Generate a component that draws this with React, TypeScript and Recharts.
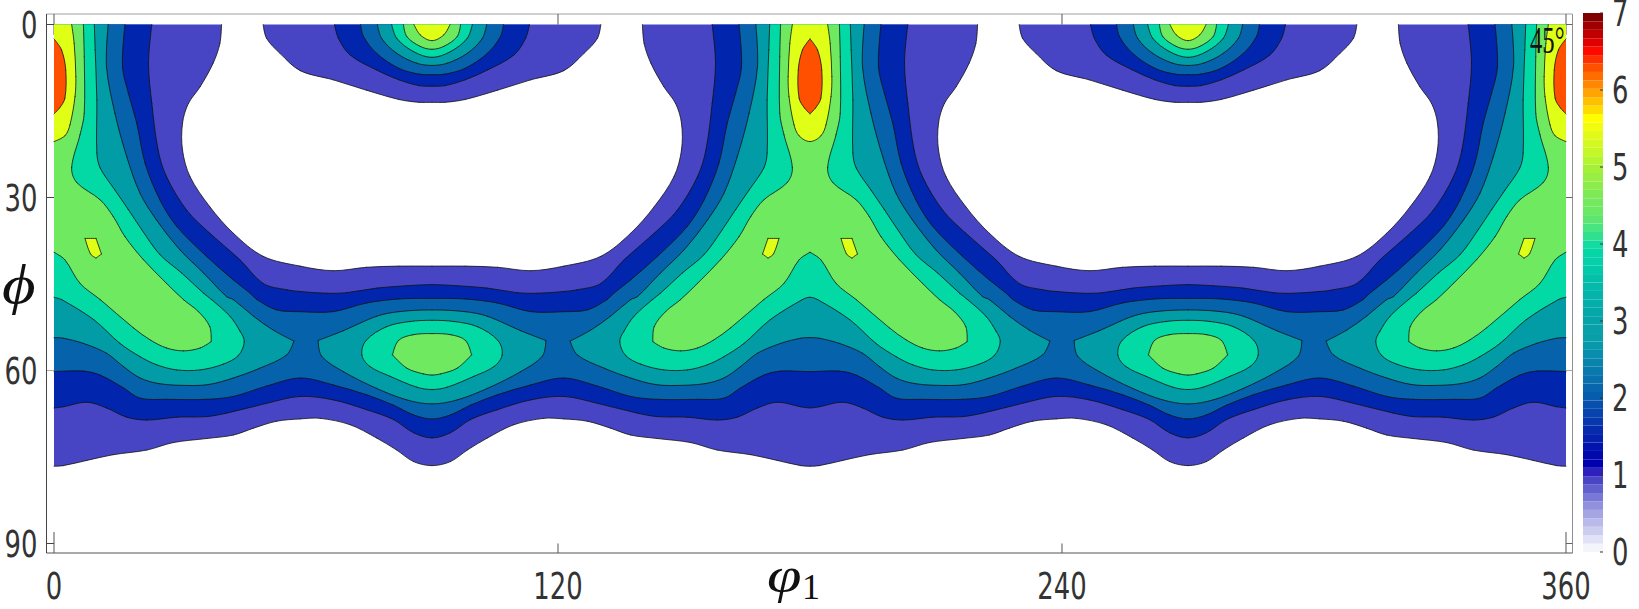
import React from 'react';
import {
  Bar,
  BarChart,
  ReferenceArea,
  ReferenceLine,
  Scatter,
  ScatterChart,
  XAxis,
  YAxis,
} from 'recharts';

type P = [number, number];

// phi1 / phi axes
const X_TICKS = [0, 120, 240, 360];
const Y_TICKS = [0, 30, 60, 90];
const BAR_TICKS = [0, 1, 2, 3, 4, 5, 6, 7];
const X_DOMAIN: P = [-1.786, 361.548];
const Y_DOMAIN: P = [-1.82, 91.65];

const LEVEL_COLORS = ['#4745c3', '#0225ae', '#0562ab', '#029ca6', '#02d9a5', '#6fe95f', '#e0ff16', '#ff5000'];

const BAR_COLORS = [
  '#f4f4fd', '#e2e2f7', '#cdcdf0', '#b9b9ea', '#a5a5e3', '#9090dd', '#7878d6', '#6060ce',
  '#4a44c6', '#2e20bc', '#0000b0', '#0008ae', '#0214ad', '#0420ad', '#062cad', '#0738ad',
  '#0844ad', '#0850ad', '#085cad', '#0866ad', '#0870ad', '#087aad', '#0884ac', '#088eac',
  '#0898ab', '#089eaa', '#08a0a9', '#06a4a8', '#04a8a8', '#04aeaa', '#04b4aa', '#04baaa',
  '#04c0aa', '#04c8aa', '#04d0a9', '#04d6a8', '#14dca0', '#2ee090', '#48e480', '#5ce670',
  '#6ce864', '#74e85e', '#80ea56', '#8cec4c', '#98ee42', '#a4f038', '#b4f430', '#c4f628',
  '#d4f820', '#e2fa18', '#f2fc0c', '#ffff00', '#ffdc00', '#ffc000', '#ffa400', '#ff8800',
  '#ff6c00', '#ff5000', '#ff3000', '#ff0800', '#e00000', '#c00000', '#a00000', '#800000',
];

// The figure repeats every 180 deg and mirrors about 90, so each contour is read
// once, for phi1 in 0..90, and laid out over the other quadrants below.

// band contours, upper and lower edge
const L1_TOP: P[] = [[39.9, 0], [39.5, 3.3], [37.9, 6.7], [34.8, 10.8], [32, 13.7], [30.6, 17.1], [30.6, 21.8], [32.4, 26.4], [37.1, 31.6], [42.7, 36.2], [49.8, 40.2], [58.6, 41.9], [66.5, 42.7], [74.4, 42.1], [82.1, 41.9], [90, 41.9]];
const L1_BOT: P[] = [[0, 76.6], [2.2, 76.5], [7.8, 75.6], [14.1, 74.6], [22.1, 73.8], [28.4, 72.5], [36.3, 71.8], [42.7, 71.2], [47.5, 70], [53, 68.8], [58.6, 68.4], [63.4, 68.3], [70.5, 69.4], [76.8, 71.7], [81.6, 73.8], [85.6, 75.8], [90, 76.5]];
const L2_TOP: P[] = [[23.3, 0], [22.5, 6.7], [23.3, 13.7], [24.8, 21.8], [26.8, 26.4], [31.6, 32.2], [37.1, 36.2], [44.3, 40.8], [49.8, 44.9], [55.4, 46], [58.6, 46.3], [64.9, 46.6], [69.7, 46.5], [76.9, 45.7], [84, 45.3], [90, 45.1]];
const L2_BOT: P[] = [[0, 66.5], [2.2, 66.3], [7.8, 65.5], [12.5, 66.5], [17.3, 68.1], [22.1, 68.6], [29.2, 68.1], [36.3, 68], [41.1, 67.4], [50.6, 65.7], [58.6, 64.5], [66.5, 65.1], [74.4, 66.8], [80.8, 68.5], [85.6, 70.8], [90, 71.7]];
const L3_TOP: P[] = [[16.9, 0], [16.3, 7.3], [17.7, 11.9], [19.7, 17.1], [21.7, 24.1], [25.2, 30.4], [29.2, 35], [36.3, 40.2], [42.7, 44.3], [46.7, 46.6], [48.3, 47.7], [53, 49.5], [58.6, 49.8], [66.5, 49.8], [74.4, 48.3], [82.1, 47.6], [90, 47.5]];
const L3_BOT: P[] = [[0, 60.2], [7, 60.1], [11, 60.8], [16.5, 63], [20.5, 64.8], [26.8, 65], [36.3, 65], [42.7, 64.5], [50.6, 62.7], [58.6, 61.3], [66.5, 62.5], [74.4, 64.2], [80.8, 66], [85.6, 67.7], [90, 68.4]];

// contours around the peaks at 0, 180, 360, from the top edge round to phi1 = 0
const PEAK_4: P[] = [[0, 0], [12.9, 0], [12.5, 7.3], [14.5, 15.4], [17.3, 22.9], [20.5, 29.3], [24.4, 33.9], [30, 39.1], [35.6, 43.1], [41.1, 47.2], [42.7, 47.7], [47.5, 50.6], [52.2, 53], [57.1, 54.9], [55.4, 57.3], [49, 59.6], [42.7, 61.3], [37.1, 62.4], [32.4, 62.6], [25.2, 62.3], [20.5, 61.3], [16.5, 59.3], [12.5, 57], [7, 55.3], [2.2, 54.4], [0, 54.3]];
const PEAK_5: P[] = [[0, 0], [9.6, 0], [9.8, 4.4], [10.2, 13.1], [10.2, 22.3], [11, 24.9], [14.5, 28.7], [17.7, 32.1], [20.9, 35.6], [25.2, 39.9], [30.4, 43.1], [35.6, 46.6], [37.5, 47.7], [41.9, 50.6], [44.3, 53.2], [45.3, 55], [43.9, 57.4], [40.3, 58.9], [34.8, 59.9], [29.2, 59.9], [24.4, 59], [20.5, 57.6], [15.7, 55.3], [9.5, 51.2], [1.8, 47.7], [0, 47.3]];
const PEAK_6: P[] = [[0, 0], [7, 0], [7.2, 5.6], [7.2, 15.4], [6.2, 19.1], [4.2, 24.8], [5.4, 27.4], [11, 30.4], [14.1, 33.3], [16.9, 36.8], [21.3, 40.8], [26.8, 44.9], [30.8, 47.7], [34.4, 49.8], [37.1, 52.4], [37.4, 55], [34.8, 56.1], [30.8, 56.6], [26.8, 56.1], [22.9, 54.7], [18.9, 52.6], [11, 47.7], [6.2, 44.9], [2.6, 40.8], [0, 39.5]];
const PEAK_7: P[] = [[0, 0], [4.2, 0], [4.8, 3.3], [5.2, 9], [5, 12.5], [3.8, 17.4], [2.6, 19.3], [0, 20.3]];
const PEAK_8: P[] = [[0, 2.5], [1.8, 4.4], [2.8, 7.9], [2.6, 12.8], [1.3, 14.5], [0, 15.5]];

// blobs hanging from the top edge at 90 and 270
const BLOB_1: P[] = [[49.8, 0], [50.6, 2.4], [53.8, 5], [58.6, 8], [66.5, 9.6], [74.4, 11.4], [82.1, 13], [86.9, 13.5], [90, 13.5]];
const BLOB_2: P[] = [[66.8, 0], [67.7, 2.4], [70.5, 5.3], [76.8, 7.9], [82.1, 9.6], [86.9, 10.6], [90, 10.7]];
const BLOB_3: P[] = [[73, 0], [73.7, 2.1], [76.8, 5], [82.1, 7.6], [86.9, 8.6], [90, 8.7]];
const BLOB_4: P[] = [[77, 0], [78, 2.4], [81.6, 5], [86.3, 6.7], [90, 7.1]];
const BLOB_5: P[] = [[80.4, 0], [81.6, 2.4], [85.6, 4.7], [90, 5.7]];
const BLOB_6: P[] = [[83.2, 0], [84, 2.1], [87.2, 3.8], [90, 4.3]];
const BLOB_7: P[] = [[85.7, 0], [87.2, 1.8], [90, 2.8]];

// closed lenses around (90, 57) and (270, 57), left half
const LENS_4: P[] = [[90, 49.5], [82.1, 49.8], [76.8, 50.6], [68.9, 53.1], [62.9, 54.8], [63.7, 57.5], [68.9, 60.2], [76.8, 63.1], [84, 65.1], [90, 65.8]];
const LENS_5: P[] = [[90, 51.3], [84.8, 51.5], [79.2, 52.4], [74.3, 54.8], [73.3, 57.3], [75.2, 59.3], [80, 61], [86.4, 62.9], [90, 63.3]];
const LENS_6: P[] = [[90, 53.6], [85.5, 53.8], [82, 54.8], [80.6, 57.3], [84, 59.6], [88, 60.6], [90, 60.8]];

// small yellow spot
const SPECK: P[] = [[7.4, 37.1], [10, 37.1], [11.3, 39.8], [10, 40.5], [8.7, 39.8]];

const mirror = (q: P[], about: number): P[] => q.map(([x, y]) => [2 * about - x, y] as P).reverse();
const shift = (q: P[], by: number): P[] => q.map(([x, y]) => [x + by, y] as P);
const tile = (q: P[]): P[] => [...q, ...mirror(q, 90), ...shift(q, 180), ...shift(mirror(q, 90), 180)];

const band = (top: P[], bot: P[]): P[] => [[0, 0], ...tile(top), [360, 0], ...tile(bot).reverse()];
const peaks = (h: P[]): P[][] => [h, [...h.map(([x, y]) => [180 - x, y] as P), ...h.map(([x, y]) => [180 + x, y] as P).reverse()], mirror(h, 180)];
const aroundNinety = (h: P[]): P[][] => {
  const whole = [...h, ...mirror(h, 90)];
  return [whole, shift(whole, 180)];
};
const specks = (s: P[]): P[][] => [s, mirror(s, 90), shift(s, 180), shift(mirror(s, 90), 180)];

const PIECES: { level: number; pts: P[] }[] = [
  { level: 0, pts: band(L1_TOP, L1_BOT) },
  ...aroundNinety(BLOB_1).map((pts) => ({ level: 0, pts })),
  { level: 1, pts: band(L2_TOP, L2_BOT) },
  ...aroundNinety(BLOB_2).map((pts) => ({ level: 1, pts })),
  { level: 2, pts: band(L3_TOP, L3_BOT) },
  ...aroundNinety(BLOB_3).map((pts) => ({ level: 2, pts })),
  ...peaks(PEAK_4).map((pts) => ({ level: 3, pts })),
  ...aroundNinety(BLOB_4).map((pts) => ({ level: 3, pts })),
  ...aroundNinety(LENS_4).map((pts) => ({ level: 3, pts })),
  ...peaks(PEAK_5).map((pts) => ({ level: 4, pts })),
  ...aroundNinety(BLOB_5).map((pts) => ({ level: 4, pts })),
  ...aroundNinety(LENS_5).map((pts) => ({ level: 4, pts })),
  ...peaks(PEAK_6).map((pts) => ({ level: 5, pts })),
  ...aroundNinety(BLOB_6).map((pts) => ({ level: 5, pts })),
  ...aroundNinety(LENS_6).map((pts) => ({ level: 5, pts })),
  ...peaks(PEAK_7).map((pts) => ({ level: 6, pts })),
  ...aroundNinety(BLOB_7).map((pts) => ({ level: 6, pts })),
  ...specks(SPECK).map((pts) => ({ level: 6, pts })),
  ...peaks(PEAK_8).map((pts) => ({ level: 7, pts })),
];

const BAR_ROW: Record<string, number | string> = { name: 'odf' };
BAR_COLORS.forEach((_, i) => {
  BAR_ROW[`s${i}`] = 7 / BAR_COLORS.length;
});

const FONT = '"DejaVu Sans", sans-serif';
const SERIF = '"Liberation Serif", serif';
const INK = '#333';

// pixel edges of the contour image; the fills stop there without a line
const LEFT_PX = 54;
const RIGHT_PX = 1566;
const TOP_PX = 24.5;

type Pt = { x: number; y: number };

const onImageEdge = (a: Pt, b: Pt) =>
  (Math.abs(a.y - TOP_PX) < 1 && Math.abs(b.y - TOP_PX) < 1) ||
  (Math.abs(a.x - LEFT_PX) < 1 && Math.abs(b.x - LEFT_PX) < 1) ||
  (Math.abs(a.x - RIGHT_PX) < 1 && Math.abs(b.x - RIGHT_PX) < 1);

// unit tangent at each vertex, null where the contour has a real corner
function tangents(pts: Pt[]) {
  const n = pts.length;
  return pts.map((p, i) => {
    const prev = pts[(i - 1 + n) % n];
    const next = pts[(i + 1) % n];
    if (onImageEdge(prev, p) || onImageEdge(p, next)) return null;
    const ax = p.x - prev.x;
    const ay = p.y - prev.y;
    const bx = next.x - p.x;
    const by = next.y - p.y;
    const cos = (ax * bx + ay * by) / (Math.hypot(ax, ay) * Math.hypot(bx, by));
    if (cos < 0.55) return null;
    const len = Math.hypot(next.x - prev.x, next.y - prev.y);
    return { x: (next.x - prev.x) / len, y: (next.y - prev.y) / len };
  });
}

function contourLine(color: string) {
  return (props: any) => {
    const pts: Pt[] = (props.points as Pt[]).filter((p, i, all) => {
      const q = all[(i - 1 + all.length) % all.length];
      return Math.hypot(p.x - q.x, p.y - q.y) > 0.01;
    });
    const tan = tangents(pts);
    let fillD = `M${pts[0].x} ${pts[0].y}`;
    let lineD = '';
    pts.forEach((a, i) => {
      const j = (i + 1) % pts.length;
      const b = pts[j];
      if (onImageEdge(a, b)) {
        fillD += `L${b.x} ${b.y}`;
        return;
      }
      const d = Math.hypot(b.x - a.x, b.y - a.y) / 3;
      const c1 = tan[i] ? { x: a.x + tan[i]!.x * d, y: a.y + tan[i]!.y * d } : a;
      const c2 = tan[j] ? { x: b.x - tan[j]!.x * d, y: b.y - tan[j]!.y * d } : b;
      const seg = `C${c1.x} ${c1.y} ${c2.x} ${c2.y} ${b.x} ${b.y}`;
      fillD += seg;
      lineD += `M${a.x} ${a.y}${seg}`;
    });
    return (
      <g>
        <path d={fillD + 'Z'} fill={color} stroke="none" />
        <path d={lineD} fill="none" stroke="#111" strokeWidth={0.8} strokeLinecap="round" />
      </g>
    );
  };
}

function AxisTick({ x, y, payload, anchor }: any) {
  return (
    <text
      transform={`translate(${x},${y}) scale(0.7,1)`}
      textAnchor={anchor}
      dy="0.36em"
      fontSize={37}
      fontFamily={FONT}
      fill={INK}
    >
      {payload.value}
    </text>
  );
}

function BarTick({ x, y, payload }: any) {
  return (
    <g>
      <line x1={33} x2={30} y1={y} y2={y} stroke="#333" />
      <AxisTick x={x} y={y} payload={payload} anchor="start" />
    </g>
  );
}

const noSymbol = () => <g />;

const segment = (x1: number, y1: number, x2: number, y2: number, stroke: string, key: string) => (
  <ReferenceLine
    key={key}
    segment={[{ x: x1, y: y1 }, { x: x2, y: y2 }]}
    stroke={stroke}
    strokeWidth={1}
  />
);

export default function App() {
  const [x0, x1] = X_DOMAIN;
  const [y0, y1] = Y_DOMAIN;
  return (
    <div style={{ position: 'absolute', left: 0, top: 0, width: 1639, height: 609, background: '#fff' }}>
      <div style={{ position: 'absolute', left: 0, top: 0 }}>
        <ScatterChart
          width={1639}
          height={609}
          margin={{ top: 14, right: 66.5, bottom: 55, left: 45.5 }}
        >
          <XAxis
            type="number"
            dataKey="x"
            domain={X_DOMAIN}
            ticks={X_TICKS}
            allowDataOverflow
            interval={0}
            height={1}
            stroke="#555"
            tickLine={false}
            tickSize={0}
            tickMargin={33}
            tick={(p: any) => <AxisTick {...p} anchor="middle" />}
          />
          <YAxis
            type="number"
            dataKey="y"
            domain={Y_DOMAIN}
            ticks={Y_TICKS}
            reversed
            allowDataOverflow
            interval={0}
            width={1}
            stroke="#444"
            tickLine={false}
            tickSize={0}
            tickMargin={9}
            tick={(p: any) => <AxisTick {...p} anchor="end" />}
          />
          {segment(x0, y0, x1, y0, '#a0a0a0', 'frame-top')}
          {segment(x1, y0, x1, y1, '#909090', 'frame-right')}
          {X_TICKS.flatMap((t) => {
            const corner = t === 0 || t === 360;
            return [
              segment(t, y0, t, corner ? 1.8 : 0, '#555', `xt${t}`),
              segment(t, corner ? 88 : 90, t, y1, '#555', `xb${t}`),
            ];
          })}
          {Y_TICKS.flatMap((t) => [
            segment(x0, t, 0, t, t === 60 ? '#aaa' : '#444', `yl${t}`),
            segment(360, t, x1, t, t === 60 ? '#aaa' : '#666', `yr${t}`),
          ])}
          {PIECES.map((piece, i) => (
            <Scatter
              key={i}
              data={piece.pts.map(([x, y]) => ({ x, y }))}
              fill={LEVEL_COLORS[piece.level]}
              line={contourLine(LEVEL_COLORS[piece.level])}
              lineType="joint"
              shape={noSymbol}
              isAnimationActive={false}
            />
          ))}
          <text transform="translate(2,303) scale(1.2,1)" fontSize={54} fontStyle="italic" fontFamily={SERIF} fill="#111">
            ϕ
          </text>
          <text transform="translate(767,592) scale(1.25,1)" fontSize={50} fontStyle="italic" fontFamily={SERIF} fill="#111">
            φ
          </text>
          <text x={802} y={599} fontSize={36} fontFamily={SERIF} fill="#111">
            1
          </text>
        </ScatterChart>
      </div>
      <div style={{ position: 'absolute', left: 1570, top: 0 }}>
        <BarChart
          width={69}
          height={609}
          data={[BAR_ROW]}
          barCategoryGap={0}
          barGap={0}
          margin={{ top: 13, right: 35, bottom: 57, left: 13 }}
        >
          <XAxis dataKey="name" hide />
          <YAxis
            orientation="right"
            type="number"
            domain={[0, 7]}
            ticks={BAR_TICKS}
            interval={0}
            width={1}
            axisLine={false}
            tickLine={false}
            tickSize={0}
            tickMargin={9}
            tick={(p: any) => <BarTick {...p} />}
          />
          {BAR_COLORS.map((c, i) => (
            <Bar key={c} dataKey={`s${i}`} stackId="bar" fill={c} isAnimationActive={false} />
          ))}
          <ReferenceArea fill="none" stroke="#444" strokeWidth={1} />
        </BarChart>
      </div>
      <svg width={80} height={70} style={{ position: 'absolute', left: 1520, top: 0 }}>
        <text transform="translate(10,53) scale(0.65,1)" fontSize={38} fontFamily={SERIF} fill="#111">
          45°
        </text>
      </svg>
    </div>
  );
}
